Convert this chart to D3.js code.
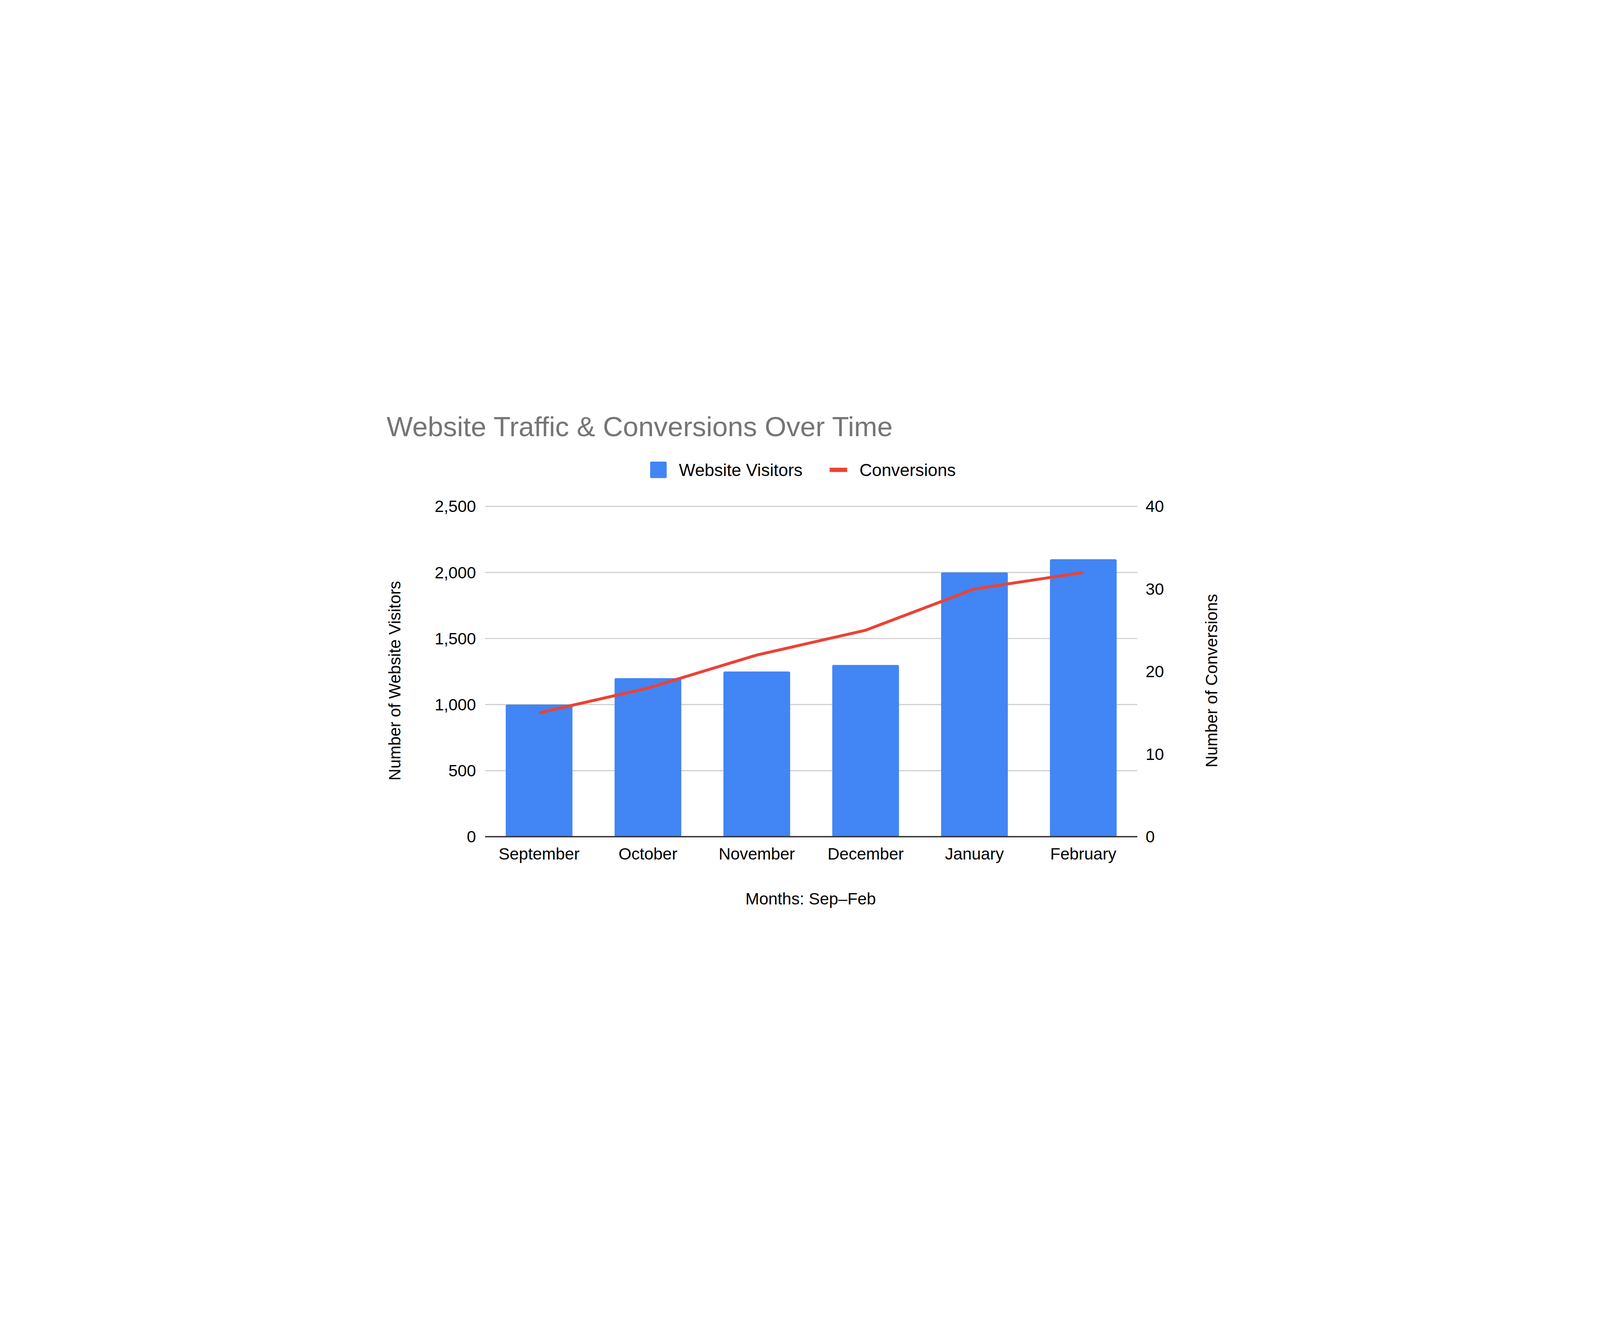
<!DOCTYPE html><html><head><meta charset="utf-8"><script src="https://cdn.jsdelivr.net/npm/d3@7"></script>
<style>html,body{margin:0;padding:0;background:#fff;overflow:hidden}svg{display:block;width:100vw;height:100vh;font-family:Arial,"Liberation Sans",sans-serif}</style></head><body>
<svg id="c" viewBox="0 0 6000 3375" preserveAspectRatio="xMidYMid meet"></svg>
<script>
const months=["September","October","November","December","January","February"];
const visitors=[1000,1200,1250,1300,2000,2100];
const conversions=[15,18,22,25,30,32];
const leftTicks=[0,500,1000,1500,2000,2500];
const rightTicks=[0,10,20,30,40];
const svg=d3.select("#c");
const L=1819,R=4265,T=1115,B=2354;
const x=d3.scaleBand().domain(months).range([L,R]).paddingInner(0.387).paddingOuter(0.19);
const y=d3.scaleLinear().domain([0,2500]).range([B,T]);
const y2=d3.scaleLinear().domain([0,40]).range([B,T]);
svg.append("g").selectAll("line").data(leftTicks.slice(1)).join("line")
 .attr("x1",L).attr("x2",R).attr("y1",d=>y(d)).attr("y2",d=>y(d)).attr("stroke","#cccccc").attr("stroke-width",4);
svg.append("g").selectAll("rect").data(visitors).join("rect")
 .attr("x",(d,i)=>x(months[i])).attr("width",x.bandwidth()).attr("y",d=>y(d)).attr("height",d=>B-y(d))
 .attr("fill","#4285f4").attr("rx",6);
svg.append("line").attr("x1",L).attr("x2",R).attr("y1",B).attr("y2",B).attr("stroke","#333").attr("stroke-width",5);
svg.append("path").datum(conversions).attr("fill","none").attr("stroke","#ea4335").attr("stroke-width",11).attr("stroke-linejoin","round")
 .attr("d",d3.line().x((d,i)=>x(months[i])+x.bandwidth()/2).y(d=>y2(d)));
const fmt=d3.format(",");
svg.append("g").selectAll("text").data(leftTicks).join("text").attr("x",1785).attr("y",d=>y(d)).attr("dy","0.35em")
 .attr("text-anchor","end").attr("font-size",62).attr("fill","#000").text(d=>fmt(d));
svg.append("g").selectAll("text").data(rightTicks).join("text").attr("x",4296).attr("y",d=>y2(d)).attr("dy","0.35em")
 .attr("font-size",62).attr("fill","#000").text(d=>d);
svg.append("g").selectAll("text").data(months).join("text").attr("x",d=>x(d)+x.bandwidth()/2).attr("y",2440)
 .attr("text-anchor","middle").attr("font-size",62).text(d=>d);
svg.append("text").attr("x",3040).attr("y",2608).attr("text-anchor","middle").attr("font-size",62).text("Months: Sep–Feb");
svg.append("text").attr("transform","translate(1502,1769) rotate(-90)").attr("text-anchor","middle").attr("font-size",62).text("Number of Website Visitors");
svg.append("text").attr("transform","translate(4564,1769) rotate(-90)").attr("text-anchor","middle").attr("font-size",62).text("Number of Conversions");
svg.append("text").attr("x",1450).attr("y",852).attr("font-size",104).attr("fill","#757575").text("Website Traffic & Conversions Over Time");
svg.append("rect").attr("x",2438).attr("y",947).attr("width",62).attr("height",62).attr("rx",5).attr("fill","#4285f4");
svg.append("text").attr("x",2546).attr("y",978).attr("dy","0.35em").attr("font-size",65).text("Website Visitors");
svg.append("rect").attr("x",3111).attr("y",970).attr("width",66).attr("height",16).attr("fill","#ea4335");
svg.append("text").attr("x",3223).attr("y",978).attr("dy","0.35em").attr("font-size",65).text("Conversions");
</script></body></html>
